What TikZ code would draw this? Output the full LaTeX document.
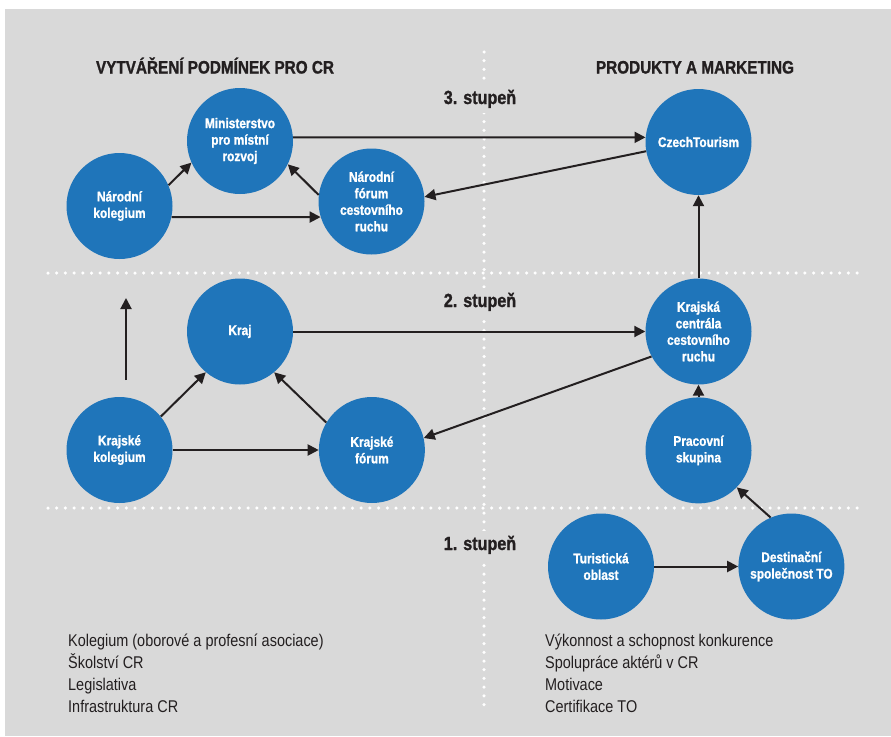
\documentclass[tikz,border=0pt]{standalone}
\usepackage{fontspec}
\setmainfont{Liberation Sans}[FakeStretch=0.85, BoldFeatures={FakeBold=1.2}]
\usetikzlibrary{arrows.meta, positioning}
\definecolor{bggray}{HTML}{D9D9D9}
\definecolor{nodeblue}{HTML}{1F75BA}
\definecolor{inkdark}{HTML}{231F20}
\tikzset{
  circ/.style={circle, fill=nodeblue, text=white, align=center, minimum size=106pt,
    inner sep=0pt, font=\bfseries\fontsize{14}{16.5}\selectfont},
  heading/.style={anchor=base, text=inkdark, font=\bfseries\fontsize{18}{20}\selectfont},
  level/.style={anchor=base, fill=bggray, text=inkdark, inner sep=5pt,
    font=\bfseries\fontsize{19}{21}\selectfont},
  notes/.style={anchor=north west, align=left, inner sep=0pt, text=inkdark,
    font=\fontsize{17}{22}\selectfont},
  dots/.style={white, line width=3.5pt, line cap=round, dash pattern=on 0pt off 8.7pt},
  arrow/.style={-{Triangle[length=11pt, width=11pt]}, line width=2pt, inkdark}
}

\begin{document}
\begin{tikzpicture}[x=1pt, y=-1pt]
    \useasboundingbox (0,0) rectangle (891,736);
    \fill[bggray] (5,9) rectangle (891,736);
    \draw[dots] (48,273) -- (858,273);
    \draw[dots] (48,508) -- (858,508);
    \draw[dots] (484,52) -- (484,705);
    \node[heading] (hleft) at (215,73.5) {VYTVÁŘENÍ PODMÍNEK PRO CR};
    \node[heading] (hright) at (695,73.5) {PRODUKTY A MARKETING};
    \node[level] (st3) at (480,104) {3. stupeň};
    \node[level] (st2) at (480,307) {2. stupeň};
    \node[level] (st1) at (480,550) {1. stupeň};
    % 3. stupen
    \node[circ] (mmr) at (240,141) {Ministerstvo\\pro místní\\rozvoj};
    \node[circ] (nkol) at (119.5,206) {Národní\\kolegium};
    \node[circ] (nfor) at (371.5,201.5) {Národní\\fórum\\cestovního\\ruchu};
    \node[circ] (czt) at (698.5,142) {CzechTourism};
    % 2. stupen
    \node[circ] (kraj) at (240,331.5) {Kraj};
    \node[circ] (kkol) at (119.5,450) {Krajské\\kolegium};
    \node[circ, right=146pt of kkol] (kfor) {Krajské\\fórum};
    \node[circ] (kcen) at (698.5,331.5) {Krajská\\centrála\\cestovního\\ruchu};
    \node[circ, below=12.5pt of kcen] (skup) {Pracovní\\skupina};
    % 1. stupen
    \node[circ] (tur) at (601,566.5) {Turistická\\oblast};
    \node[circ, right=84pt of tur] (dest) {Destinační\\společnost TO};
    \coordinate (upfrom) at (126,380);
    \coordinate (upto) at (126,298);
    \node[notes] (nleft) at (68,634) {Kolegium (oborové a profesní asociace)\\Školství CR\\Legislativa\\Infrastruktura CR};
    \node[notes] (nright) at (545,634) {Výkonnost a schopnost konkurence\\Spolupráce aktérů v CR\\Motivace\\Certifikace TO};
    \draw[arrow] (nkol.23) -- (mmr.204);
    \draw[arrow] (nfor.173) -- (mmr.334);
    \draw[arrow] (nkol.348) -- (nfor.197);
    \draw[arrow] (mmr.4) -- (czt.175);
    \draw[arrow] (czt.190) -- (nfor.5);
    \draw[arrow] (kcen.north) -- (czt.south);
    \draw[arrow] (upfrom) -- (upto);
    \draw[arrow] (kraj.east) -- (kcen.west);
    \draw[arrow] (kkol.39) -- (kraj.230);
    \draw[arrow] (kfor.149) -- (kraj.310);
    \draw[arrow] (kkol.east) -- (kfor.west);
    \draw[arrow] (kcen.208) -- (kfor.13);
    \draw[arrow] (skup.north) -- (kcen.south);
    \draw[arrow] (tur.east) -- (dest.west);
    \draw[arrow] (dest.113) -- (skup.316);
  \end{tikzpicture}
\end{document}
